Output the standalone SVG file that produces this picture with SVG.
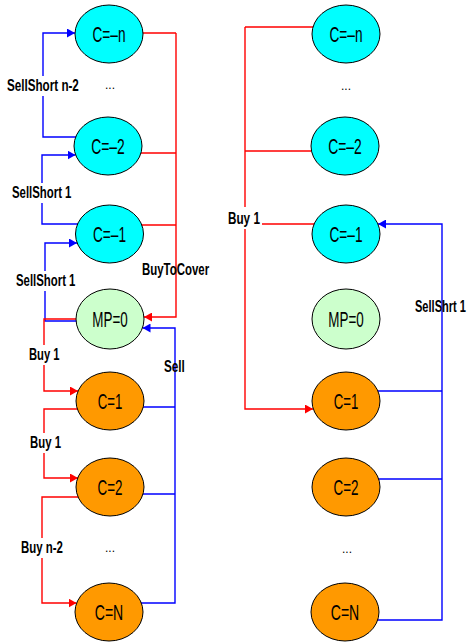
<svg xmlns="http://www.w3.org/2000/svg" width="468" height="642" viewBox="0 0 468 642">
<defs>
<marker id="ar" markerUnits="userSpaceOnUse" markerWidth="8" markerHeight="9" viewBox="0 0 8 9" refX="8" refY="4.5" orient="auto"><path d="M0,0 L8,4.5 L0,9 z" fill="#FF0000"/></marker>
<marker id="ab" markerUnits="userSpaceOnUse" markerWidth="8" markerHeight="9" viewBox="0 0 8 9" refX="8" refY="4.5" orient="auto"><path d="M0,0 L8,4.5 L0,9 z" fill="#0000FF"/></marker>
</defs>
<style>
.n ellipse{stroke:#000;stroke-width:1}
.neg ellipse{fill:#00FFFF}
.zero ellipse{fill:#CCFFCC}
.pos ellipse{fill:#FF9900}
.n text{font-family:"Liberation Sans",Arial,sans-serif;font-size:22px;text-anchor:middle;fill:#000}
.r{fill:none;stroke:#FF0000;stroke-width:1.4}
.b{fill:none;stroke:#0000FF;stroke-width:1.4}
.lbl{font-family:"Liberation Sans",Arial,sans-serif;font-size:17px;font-weight:bold;fill:#000}
.bg{fill:#fff}
.dots{font-family:"Liberation Sans",Arial,sans-serif;font-size:12px;text-anchor:middle;fill:#000}
</style>
<rect width="468" height="642" fill="#fff"/>
<g id="connectors">
<path class="b" d="M90,137 H43 V33 H75" marker-end="url(#ab)"/>
<path class="b" d="M90,224 H42 V155 H75.5" marker-end="url(#ab)"/>
<path class="b" d="M90,321 H45 V243 H77" marker-end="url(#ab)"/>
<path class="r" d="M90,319 H44 V391 H78" marker-end="url(#ar)"/>
<path class="r" d="M90,409 H44 V478 H78" marker-end="url(#ar)"/>
<path class="r" d="M90,497 H42 V603 H76.5" marker-end="url(#ar)"/>
<path class="r" d="M130,33 H176 M130,153 H176 M130,225 H176"/>
<path class="r" d="M176,33 V317 H144" marker-end="url(#ar)"/>
<path class="b" d="M130,407 H175 M130,494 H175"/>
<path class="b" d="M130,603 H175 V328 H142.5" marker-end="url(#ab)"/>
<path class="r" d="M330,27 H245 M330,151 H245 M330,224 H262"/>
<path class="r" d="M245,27 V409 H313" marker-end="url(#ar)"/>
<path class="b" d="M360,391 H442 M360,479 H442"/>
<path class="b" d="M360,620 H442 V224 H378" marker-end="url(#ab)"/>
<rect class="bg" x="6" y="76" width="75" height="20"/>
<text class="lbl" transform="translate(7,91) scale(0.686,1)">SellShort n-2</text>
<rect class="bg" x="11" y="183" width="62" height="20"/>
<text class="lbl" transform="translate(12,198) scale(0.67,1)">SellShort 1</text>
<rect class="bg" x="15" y="271" width="62" height="20"/>
<text class="lbl" transform="translate(16,286) scale(0.67,1)">SellShort 1</text>
<text class="lbl" transform="translate(142,275) scale(0.673,1)">BuyToCover</text>
<text class="lbl" transform="translate(164,372) scale(0.69,1)">Sell</text>
<rect class="bg" x="28" y="345" width="33" height="20"/>
<text class="lbl" transform="translate(29,360) scale(0.66,1)">Buy 1</text>
<rect class="bg" x="29" y="433" width="34" height="20"/>
<text class="lbl" transform="translate(30,448) scale(0.67,1)">Buy 1</text>
<rect class="bg" x="20" y="538" width="45" height="20"/>
<text class="lbl" transform="translate(21,553) scale(0.674,1)">Buy n-2</text>
<rect class="bg" x="227" y="207" width="35" height="22"/>
<text class="lbl" transform="translate(228,224) scale(0.69,1)">Buy 1</text>
<text class="lbl" transform="translate(415,312) scale(0.65,1)">SellShrt 1</text>
</g>
<g id="left-cn" class="n neg"><ellipse cx="109" cy="34" rx="34" ry="29"/><text transform="translate(109,42) scale(0.62,1)">C=–n</text></g>
<g id="left-c-2" class="n neg"><ellipse cx="108" cy="146" rx="34" ry="29"/><text transform="translate(108,154) scale(0.63,1)">C=–2</text></g>
<g id="left-c-1" class="n neg"><ellipse cx="109.5" cy="234" rx="34" ry="29"/><text transform="translate(109.5,242) scale(0.62,1)">C=–1</text></g>
<g id="left-mp0" class="n zero"><ellipse cx="110" cy="319" rx="34" ry="30"/><text transform="translate(110,327) scale(0.61,1)">MP=0</text></g>
<g id="left-c1" class="n pos"><ellipse cx="110" cy="401" rx="34" ry="29"/><text transform="translate(110,409) scale(0.6,1)">C=1</text></g>
<g id="left-c2" class="n pos"><ellipse cx="110" cy="487" rx="34" ry="29"/><text transform="translate(110,495) scale(0.61,1)">C=2</text></g>
<g id="left-cN" class="n pos"><ellipse cx="109" cy="612" rx="34" ry="29"/><text transform="translate(109,620) scale(0.64,1)">C=N</text></g>
<g id="right-cn" class="n neg"><ellipse cx="346" cy="34" rx="34" ry="29"/><text transform="translate(346,42) scale(0.62,1)">C=–n</text></g>
<g id="right-c-2" class="n neg"><ellipse cx="345" cy="146" rx="34" ry="29"/><text transform="translate(345,154) scale(0.63,1)">C=–2</text></g>
<g id="right-c-1" class="n neg"><ellipse cx="346" cy="234" rx="34" ry="29"/><text transform="translate(346,242) scale(0.62,1)">C=–1</text></g>
<g id="right-mp0" class="n zero"><ellipse cx="346" cy="319" rx="34" ry="30"/><text transform="translate(346,327) scale(0.61,1)">MP=0</text></g>
<g id="right-c1" class="n pos"><ellipse cx="346" cy="401" rx="34" ry="29"/><text transform="translate(346,409) scale(0.6,1)">C=1</text></g>
<g id="right-c2" class="n pos"><ellipse cx="346" cy="487" rx="34" ry="29"/><text transform="translate(346,495) scale(0.61,1)">C=2</text></g>
<g id="right-cN" class="n pos"><ellipse cx="345" cy="612" rx="34" ry="29"/><text transform="translate(345,620) scale(0.64,1)">C=N</text></g>
<g id="ellipsis">
<text class="dots" x="110" y="89">...</text>
<text class="dots" x="110" y="552">...</text>
<text class="dots" x="346" y="90">...</text>
<text class="dots" x="347" y="553">...</text>
</g>
</svg>
